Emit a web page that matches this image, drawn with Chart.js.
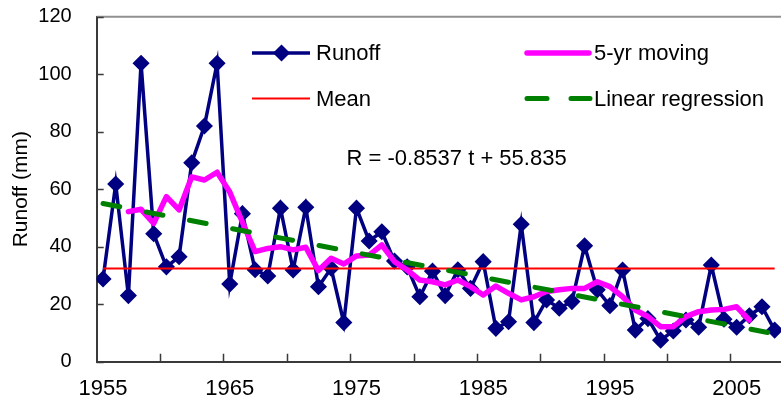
<!DOCTYPE html>
<html>
<head>
<meta charset="utf-8">
<title>Runoff</title>
<script src="https://cdn.jsdelivr.net/npm/chart.js@4.4.1/dist/chart.umd.min.js"></script>
<style>
  html, body { margin: 0; padding: 0; background: #fff; overflow: hidden; }
  /* plot runs slightly past the 781px window, like the cropped original */
  #runoffChart { display: block; }
</style>
</head>
<body>
<canvas id="runoffChart" width="790" height="403"></canvas>
<script>
/* ── Data ──────────────────────────────────────────────── */
const years = [
  1955, 1956, 1957, 1958, 1959, 1960, 1961, 1962, 1963, 1964,
  1965, 1966, 1967, 1968, 1969, 1970, 1971, 1972, 1973, 1974,
  1975, 1976, 1977, 1978, 1979, 1980, 1981, 1982, 1983, 1984,
  1985, 1986, 1987, 1988, 1989, 1990, 1991, 1992, 1993, 1994,
  1995, 1996, 1997, 1998, 1999, 2000, 2001, 2002, 2003, 2004,
  2005, 2006, 2007, 2008
];
const runoff = [
  28.8, 61.8, 23.0, 103.8, 44.5, 33.0, 36.5, 69.2, 82.0, 103.8,
  27.0, 51.5, 32.0, 29.8, 53.4, 31.9, 53.7, 26.1, 32.5, 13.6,
  53.4, 42.0, 45.2, 35.0, 33.0, 22.6, 31.5, 23.0, 32.0, 25.5,
  34.8, 11.6, 13.9, 47.8, 13.6, 21.5, 18.6, 20.9, 40.3, 25.0,
  19.5, 31.9, 11.0, 15.0, 7.5, 10.7, 14.5, 12.0, 33.6, 14.8,
  12.0, 16.0, 19.1, 11.0
];
// centred 5-yr moving average, 1957–2006
const movingYears = years.slice(2, 52);
const movingAvg = [
  52.2, 53.0, 48.1, 57.4, 52.8, 64.3, 63.2, 65.9, 59.0, 48.5,
  38.3, 39.4, 40.0, 38.9, 39.8, 31.7, 36.0, 34.0, 36.8, 37.1,
  40.6, 34.8, 31.9, 28.4, 27.8, 26.7, 28.4, 26.1, 23.2, 26.3,
  23.8, 21.5, 22.6, 24.4, 25.0, 25.5, 25.5, 27.8, 26.1, 22.6,
  18.0, 15.7, 12.2, 12.2, 15.7, 17.4, 18.0, 18.2, 19.1, 14.5
];
const meanYears  = [1955, 2008];
const meanValues = [32.4, 32.4];
const regYears   = [1955, 2008];
const regValues  = [55.0, 9.7];

const xLabelYears = [1955, 1965, 1975, 1985, 1995, 2005];
const xTickMarks  = [1959.5, 1964.5, 1969.5, 1974.5, 1979.5, 1984.5, 1989.5, 1994.5, 1999.5, 2004.5];
const equation    = 'R = -0.8537 t + 55.835';

/* ── Style ─────────────────────────────────────────────── */
const FONT   = "'Liberation Sans', Arial, sans-serif";
const NAVY   = '#000080';
const AXIS   = '#3a3a3a';

const toPoints = (xs, ys) => xs.map((x, i) => ({ x, y: ys[i] }));

/* keep the plot box exactly where the reference has it */
function noScalePadding(s) {
  s.paddingTop = 0; s.paddingBottom = 0;
  s.paddingLeft = 0; s.paddingRight = 0;
}

/* inside tick marks + grey top frame */
const framePlugin = {
  id: 'frame',
  beforeDatasetsDraw(chart) {
    const { ctx, chartArea: a, scales: { x, y } } = chart;
    ctx.save();
    ctx.strokeStyle = '#909090';
    ctx.lineWidth = 2;
    ctx.beginPath();
    ctx.moveTo(a.left, a.top);
    ctx.lineTo(a.right, a.top);
    ctx.stroke();

    ctx.strokeStyle = AXIS;
    ctx.lineWidth = 1.5;
    ctx.beginPath();
    y.ticks.forEach(t => {
      const py = Math.round(y.getPixelForValue(t.value)) + 0.5;
      ctx.moveTo(a.left, py);
      ctx.lineTo(a.left + 7, py);
    });
    xTickMarks.forEach(v => {
      const px = Math.round(x.getPixelForValue(v)) + 0.5;
      ctx.moveTo(px, a.bottom);
      ctx.lineTo(px, a.bottom - 8);
    });
    ctx.stroke();
    ctx.restore();
  }
};

/* 2x2 legend inside the plot, plus the regression equation */
const legendPlugin = {
  id: 'innerLegend',
  afterDraw(chart) {
    const { ctx } = chart;
    const ds = chart.data.datasets;
    const slots = [
      { i: 0, x0: 252, x1: 310, y: 53,   tx: 316 },
      { i: 1, x0: 252, x1: 310, y: 98.5, tx: 316 },
      { i: 2, x0: 527, x1: 589, y: 53,   tx: 594 },
      { i: 3, x0: 527, x1: 590, y: 98.5, tx: 594 },
    ];
    ctx.save();
    slots.forEach(s => {
      const d = ds[s.i];
      ctx.strokeStyle = d.borderColor;
      ctx.lineWidth = d.borderWidth;
      ctx.lineCap = d.borderCapStyle || 'butt';
      ctx.setLineDash(d.borderDash ? [20, 24] : []);
      ctx.beginPath();
      ctx.moveTo(s.x0, s.y);
      ctx.lineTo(s.x1, s.y);
      ctx.stroke();
      ctx.setLineDash([]);
      if (d.pointRadius) {
        ctx.fillStyle = d.backgroundColor;
        ctx.strokeStyle = d.borderColor;
        ctx.lineWidth = d.pointBorderWidth;
        Chart.helpers.drawPoint(ctx, {
          pointStyle: d.pointStyle, radius: d.pointRadius, rotation: 0, borderWidth: d.pointBorderWidth
        }, (s.x0 + s.x1) / 2 + 0.5, s.y);
      }
      ctx.fillStyle = '#000';
      ctx.font = `22px ${FONT}`;
      ctx.textBaseline = 'middle';
      ctx.textAlign = 'left';
      ctx.fillText(d.label, s.tx, s.y + 1);
    });
    ctx.fillText(equation, 346.5, 159);
    ctx.restore();
  }
};

new Chart(document.getElementById('runoffChart'), {
  type: 'line',
  data: {
    datasets: [
      {
        label: 'Runoff',
        data: toPoints(years, runoff),
        borderColor: NAVY,
        backgroundColor: NAVY,
        borderWidth: 3.5,
        pointStyle: 'rectRot',
        pointRadius: 7.5,
        pointBorderWidth: 1.5,
        order: 4,
      },
      {
        label: 'Mean',
        data: toPoints(meanYears, meanValues),
        borderColor: '#ff0000',
        borderWidth: 2,
        pointRadius: 0,
        order: 3,
      },
      {
        label: '5-yr moving',
        data: toPoints(movingYears, movingAvg),
        borderColor: '#ff00ff',
        borderWidth: 5.5,
        borderJoinStyle: 'round',
        borderCapStyle: 'round',
        pointRadius: 0,
        order: 2,
      },
      {
        label: 'Linear regression',
        data: toPoints(regYears, regValues),
        borderColor: '#008000',
        borderWidth: 5,
        borderDash: [17, 27],
        borderCapStyle: 'round',
        pointRadius: 0,
        order: 1,
      },
    ]
  },
  options: {
    responsive: false,
    animation: false,
    devicePixelRatio: 1,
    layout: { padding: { top: 16.7, right: 3.4, bottom: 0, left: 0 } },
    plugins: { legend: { display: false }, tooltip: { enabled: false } },
    scales: {
      x: {
        type: 'linear',
        min: 1954.5,
        max: 2008.5,
        afterBuildTicks: s => { s.ticks = xLabelYears.map(v => ({ value: v })); },
        afterFit: s => { s.height = 41.3; noScalePadding(s); },
        grid: { display: false, drawTicks: false },
        border: { display: true, color: AXIS, width: 2 },
        ticks: {
          padding: 14, color: '#000', maxRotation: 0, autoSkip: false,
          font: { family: FONT, size: 22 },
          callback: v => String(v),
        },
      },
      y: {
        min: 0,
        max: 120,
        afterFit: s => { s.width = 96.7; noScalePadding(s); },
        grid: { display: false, drawTicks: false },
        border: { display: true, color: AXIS, width: 2 },
        ticks: {
          stepSize: 20, padding: 25, color: '#000',
          font: { family: FONT, size: 20 },
        },
        title: {
          display: true,
          text: 'Runoff (mm)',
          color: '#000',
          font: { family: FONT, size: 21 },
          padding: { top: 9, bottom: 0 },
        },
      }
    }
  },
  plugins: [framePlugin, legendPlugin]
});
</script>
</body>
</html>
